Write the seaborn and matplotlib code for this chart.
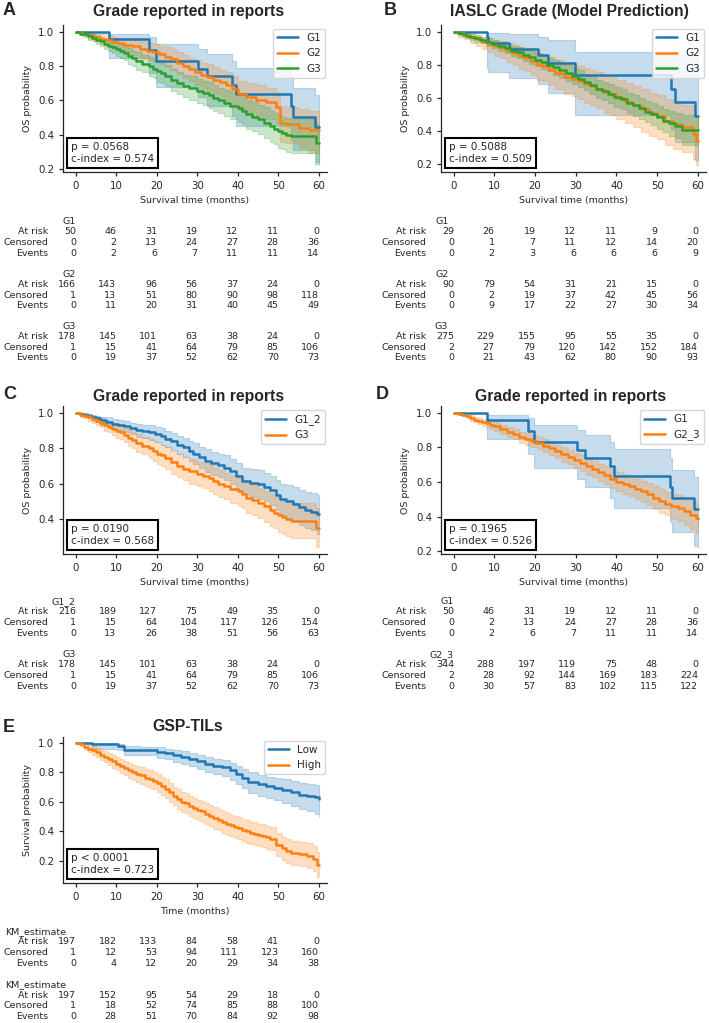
import numpy as np
import pandas as pd
import matplotlib
matplotlib.use("Agg")
import matplotlib.pyplot as plt
import matplotlib.transforms as mtransforms
import seaborn as sns

# ---- curve data (time in months, survival, CI lower, CI upper) ----
# G1 (n=50), shared by panel A and D
g1_t = [0, 8.2, 18.2, 19.8, 30.3, 32.3, 38.5, 39.5, 53.2, 53.7, 59.0, 60]
g1_s = [1.0, 0.96, 0.895, 0.83, 0.785, 0.74, 0.69, 0.635, 0.57, 0.505, 0.445, 0.445]
g1_lo = [1.0, 0.85, 0.76, 0.68, 0.62, 0.57, 0.51, 0.45, 0.37, 0.31, 0.23, 0.22]
g1_hi = [1.0, 0.99, 0.97, 0.93, 0.9, 0.87, 0.83, 0.79, 0.74, 0.67, 0.63, 0.63]

# G3 (n=178), shared by panel A and C
g3_t = [0, 1, 2, 3, 4, 5, 6, 7, 8, 9, 10, 11, 12, 13, 14, 15, 16.5, 18, 19, 20, 21, 22, 23.5, 25,
        26.5, 28, 30, 31.5, 33, 34, 35, 36.5, 38, 40, 41, 42, 43.5, 45, 46.5, 48, 49, 50, 51, 52, 53, 59.3, 60]
g3_s = [1.0, .99, .985, .975, .965, .955, .945, .93, .92, .91, .90, .89, .875, .86, .845, .83, .815, .80,
        .785, .77, .76, .745, .72, .70, .685, .67, .655, .645, .63, .615, .60, .585, .57, .555, .54, .52,
        .505, .49, .47, .45, .435, .42, .41, .40, .39, .35, .35]
g3_lo = [1.0, .98, .97, .955, .945, .93, .92, .90, .89, .875, .86, .85, .835, .815, .80, .78, .765, .745,
         .73, .71, .70, .685, .655, .635, .62, .60, .585, .575, .555, .54, .525, .51, .49, .475, .46, .435,
         .42, .405, .38, .36, .345, .325, .315, .30, .29, .24, .24]
g3_hi = [1.0, 1.0, 1.0, .995, .985, .98, .97, .96, .95, .945, .94, .93, .915, .905, .89, .88, .865, .855,
         .84, .83, .82, .805, .785, .765, .75, .74, .725, .715, .705, .69, .675, .66, .65, .635, .62, .605,
         .59, .575, .56, .54, .525, .515, .505, .50, .49, .46, .46]

# panel A, G2 (n=166)
a_g2_t = [0, 1.5, 3, 4.5, 6, 7.5, 9, 10.5, 12, 14, 16, 17.5, 19, 20.5, 22, 23.5, 25, 26.5, 28, 29.5,
          31, 32.5, 34, 35.5, 37, 38.5, 40, 42, 44.5, 47, 49.5, 50.5, 52, 55, 57.5, 60]
a_g2_s = [1.0, .99, .98, .97, .96, .95, .94, .935, .925, .915, .9, .89, .88, .87, .855, .84, .82, .8, .785,
          .765, .75, .735, .72, .705, .69, .665, .635, .62, .605, .59, .56, .47, .46, .44, .425, .425]
a_g2_lo = [1.0, .975, .96, .945, .93, .915, .9, .895, .88, .865, .85, .835, .825, .81, .795, .775, .755,
           .73, .715, .69, .675, .655, .64, .62, .605, .575, .545, .53, .51, .49, .46, .36, .35, .32, .295, .295]
a_g2_hi = [1.0, 1.0, .995, .99, .985, .98, .97, .965, .96, .955, .945, .935, .93, .92, .91, .9, .88, .865,
           .85, .835, .82, .81, .795, .78, .765, .745, .715, .7, .69, .675, .65, .57, .56, .55, .54, .54]

# panel B
b_g1_t = [0, 8.2, 8.5, 13.5, 20.7, 23.3, 29.7, 53.3, 54.4, 59.2, 60]
b_g1_s = [1.0, 0.965, 0.93, 0.897, 0.86, 0.81, 0.735, 0.655, 0.575, 0.49, 0.49]
b_g1_lo = [1.0, 0.78, 0.754, 0.717, 0.68, 0.63, 0.497, 0.41, 0.33, 0.225, 0.225]
b_g1_hi = [1.0, 1.0, 0.99, 0.985, 0.97, 0.95, 0.875, 0.86, 0.86, 0.85, 0.85]

b_g2_t = [0, 1, 2.5, 4, 5.5, 7, 8.5, 10, 11.5, 13, 14.5, 16, 17.5, 19, 20.5, 22, 23.5, 25, 27, 29,
          30.5, 32, 33.5, 35, 37, 38.5, 40, 42, 44, 46, 48, 50, 52, 54, 56, 58.8, 59.5, 60]
b_g2_s = [1.0, .99, .98, .965, .955, .94, .925, .91, .9, .88, .87, .85, .84, .82, .8, .79, .77, .75, .725,
          .715, .7, .685, .67, .655, .635, .62, .6, .575, .555, .53, .51, .49, .46, .44, .42, .38, .335, .335]
b_g2_lo = [1.0, .97, .955, .93, .915, .895, .875, .855, .84, .815, .8, .775, .76, .735, .71, .7, .675, .65,
           .62, .61, .59, .57, .555, .535, .51, .495, .47, .445, .42, .395, .37, .35, .315, .29, .27, .23, .19, .19]
b_g2_hi = [1.0, 1.0, .995, .985, .98, .97, .96, .95, .945, .93, .92, .905, .9, .885, .87, .86, .845, .83,
           .81, .8, .79, .78, .765, .755, .74, .725, .71, .69, .67, .65, .63, .615, .59, .57, .555, .52, .48, .48]

b_g3_t = [0, 1, 2, 3, 4, 5, 6.5, 8, 9.5, 11, 12.5, 14, 15.5, 17, 18.5, 20, 21.5, 23, 24.5, 26, 27.5, 29,
          30.5, 32, 33.5, 35, 36.5, 38, 39.5, 41, 42.5, 44, 45.5, 47, 48.5, 50, 51.5, 53, 54.5, 56, 60]
b_g3_s = [1.0, .99, .985, .975, .97, .96, .95, .935, .925, .91, .9, .885, .875, .86, .845, .83, .815, .8,
          .785, .765, .75, .73, .715, .695, .675, .655, .64, .625, .605, .59, .57, .555, .535, .515, .5, .48,
          .46, .445, .43, .405, .405]
b_g3_lo = [1.0, .98, .97, .96, .95, .94, .93, .91, .9, .88, .87, .85, .84, .825, .805, .79, .775, .76, .74,
           .72, .7, .68, .665, .645, .62, .6, .585, .57, .545, .53, .51, .49, .47, .45, .435, .41, .39, .37,
           .355, .315, .315]
b_g3_hi = [1.0, 1.0, .995, .99, .985, .98, .97, .96, .95, .94, .93, .915, .905, .895, .88, .87, .855, .84,
           .83, .81, .795, .78, .765, .745, .73, .71, .695, .68, .665, .65, .63, .615, .6, .58, .565, .55,
           .53, .52, .505, .495, .495]

# panel C, G1_2 (n=216)
c_g12_t = [0, 1, 2, 3, 4, 5, 6, 7.5, 9, 10.5, 12, 13.5, 15, 16.5, 18, 19.5, 21, 22, 23.5, 25, 26.5, 28,
           29, 30.5, 32, 33.5, 35, 36.5, 38, 39.5, 41, 43, 45, 46.5, 48, 49.5, 50.5, 52, 53.5, 55, 56.5,
           58, 59.5, 60]
c_g12_s = [1.0, .995, .99, .985, .975, .97, .96, .95, .94, .93, .925, .915, .905, .9, .89, .88, .87, .855,
           .84, .82, .805, .785, .77, .75, .73, .715, .705, .69, .67, .64, .615, .605, .595, .58, .565, .535,
           .51, .5, .485, .465, .45, .44, .425, .425]
c_g12_lo = [1.0, .985, .975, .97, .955, .95, .935, .925, .91, .9, .89, .88, .865, .86, .845, .835, .82,
            .805, .79, .765, .75, .73, .71, .69, .665, .65, .635, .62, .6, .565, .54, .525, .515, .5, .48,
            .45, .42, .405, .39, .365, .35, .335, .315, .315]
c_g12_hi = [1.0, 1.0, 1.0, .995, .99, .985, .98, .975, .965, .96, .955, .945, .94, .935, .93, .92, .915,
            .9, .885, .87, .86, .84, .83, .81, .795, .78, .77, .76, .74, .715, .69, .68, .675, .66, .645,
            .62, .6, .59, .58, .565, .55, .545, .535, .535]

# panel D, G2_3 (n=344)
d_g23_t = [0, 1, 2, 3, 4, 5, 6, 7, 8, 9, 10, 11.5, 13, 14.5, 16, 17.5, 19, 20.5, 22, 23.5, 25, 26.5, 28,
           29.5, 31, 32.5, 34, 35.5, 37, 38.5, 40, 41.5, 43, 44.5, 46, 47.5, 49, 50.5, 52, 53.5, 55, 56.5,
           58, 59.5, 60]
d_g23_s = [1.0, .995, .99, .98, .97, .96, .955, .945, .94, .93, .922, .905, .89, .878, .86, .85, .838,
           .825, .81, .795, .777, .76, .745, .725, .71, .69, .675, .655, .64, .62, .6, .59, .575, .56, .545,
           .53, .51, .49, .475, .46, .447, .43, .41, .39, .383]
d_g23_lo = [1.0, .99, .98, .97, .955, .945, .935, .925, .92, .905, .897, .878, .862, .848, .828, .817,
            .804, .79, .773, .757, .737, .718, .702, .68, .664, .642, .626, .604, .587, .565, .545, .533,
            .517, .5, .484, .467, .445, .423, .406, .388, .372, .352, .33, .305, .3]
d_g23_hi = [1.0, 1.0, .998, .99, .985, .975, .972, .965, .96, .955, .947, .932, .918, .908, .892, .883,
            .872, .86, .847, .833, .817, .802, .788, .77, .756, .738, .724, .706, .693, .675, .655, .647,
            .633, .62, .606, .593, .575, .557, .544, .532, .522, .508, .49, .472, .466]

# panel E
e_low_t = [0, 4, 10.5, 12, 16, 20, 22, 24, 26, 28, 30, 32, 34, 36, 38, 39.5, 41, 42.5, 45, 47, 49, 51,
           53, 55, 57, 59, 60]
e_low_s = [1.0, .99, .98, .955, .95, .94, .93, .915, .905, .89, .875, .86, .845, .835, .815, .79, .765,
           .735, .72, .705, .695, .68, .67, .65, .64, .63, .617]
e_low_lo = [1.0, .96, .95, .92, .915, .9, .89, .87, .86, .84, .825, .805, .79, .775, .75, .72, .695, .66,
            .64, .625, .61, .59, .575, .555, .54, .52, .5]
e_low_hi = [1.0, 1.0, .995, .98, .975, .97, .96, .95, .945, .93, .915, .905, .89, .885, .865, .845, .825,
            .8, .785, .77, .765, .755, .745, .73, .72, .715, .71]

e_high_t = [0, 1, 2, 3, 4, 5, 6, 7, 8, 9, 10, 11, 12, 13, 14, 15, 16, 17, 18, 19, 20, 21, 22, 23, 24,
            25, 26, 27, 28, 29, 30, 31, 32, 33, 34, 35, 36, 37, 38, 39, 40, 41, 42, 43, 44, 45, 46, 47,
            48, 49.5, 51, 52, 53, 55, 57, 58.5, 59.5, 60]
e_high_s = [1.0, .99, .975, .96, .95, .935, .92, .905, .89, .875, .86, .845, .83, .815, .8, .79, .78,
            .765, .755, .745, .73, .71, .69, .665, .64, .62, .6, .59, .575, .56, .545, .535, .52, .505,
            .49, .48, .465, .45, .44, .43, .42, .41, .4, .39, .385, .375, .37, .36, .35, .31, .285, .27,
            .255, .245, .235, .215, .17, .17]
e_high_lo = [1.0, .98, .955, .935, .92, .903, .885, .868, .85, .833, .815, .798, .781, .764, .747, .735,
             .724, .708, .697, .686, .67, .649, .628, .602, .576, .555, .534, .523, .507, .491, .475,
             .465, .449, .434, .418, .408, .392, .377, .366, .356, .345, .335, .324, .314, .308, .298,
             .292, .282, .271, .23, .205, .189, .173, .162, .151, .13, .09, .09]
e_high_hi = [1.0, 1.0, .995, .985, .98, .967, .955, .942, .93, .917, .905, .892, .879, .866, .853, .845,
             .836, .822, .813, .804, .79, .771, .752, .728, .704, .685, .666, .657, .643, .629, .615,
             .605, .591, .576, .562, .552, .538, .523, .514, .504, .495, .485, .476, .466, .462, .452,
             .448, .438, .429, .39, .365, .351, .337, .328, .319, .3, .26, .26]

# ---- number-at-risk tables (columns at 0,10,...,60 months) ----
table_ticks = [0, 10, 20, 30, 40, 50, 60]
a_risk = [[50, 46, 31, 19, 12, 11, 0], [166, 143, 96, 56, 37, 24, 0], [178, 145, 101, 63, 38, 24, 0]]
a_cens = [[0, 2, 13, 24, 27, 28, 36], [1, 13, 51, 80, 90, 98, 118], [1, 15, 41, 64, 79, 85, 106]]
a_events = [[0, 2, 6, 7, 11, 11, 14], [0, 11, 20, 31, 40, 45, 49], [0, 19, 37, 52, 62, 70, 73]]
b_risk = [[29, 26, 19, 12, 11, 9, 0], [90, 79, 54, 31, 21, 15, 0], [275, 229, 155, 95, 55, 35, 0]]
b_cens = [[0, 1, 7, 11, 12, 14, 20], [0, 2, 19, 37, 42, 45, 56], [2, 27, 79, 120, 142, 152, 184]]
b_events = [[0, 2, 3, 6, 6, 6, 9], [0, 9, 17, 22, 27, 30, 34], [0, 21, 43, 62, 80, 90, 93]]
c_risk = [[216, 189, 127, 75, 49, 35, 0], [178, 145, 101, 63, 38, 24, 0]]
c_cens = [[1, 15, 64, 104, 117, 126, 154], [1, 15, 41, 64, 79, 85, 106]]
c_events = [[0, 13, 26, 38, 51, 56, 63], [0, 19, 37, 52, 62, 70, 73]]
d_risk = [[50, 46, 31, 19, 12, 11, 0], [344, 288, 197, 119, 75, 48, 0]]
d_cens = [[0, 2, 13, 24, 27, 28, 36], [2, 28, 92, 144, 169, 183, 224]]
d_events = [[0, 2, 6, 7, 11, 11, 14], [0, 30, 57, 83, 102, 115, 122]]
e_risk = [[197, 182, 133, 84, 58, 41, 0], [197, 152, 95, 54, 29, 18, 0]]
e_cens = [[1, 12, 53, 94, 111, 123, 160], [1, 18, 52, 74, 85, 88, 100]]
e_events = [[0, 4, 12, 20, 29, 34, 38], [0, 28, 51, 70, 84, 92, 98]]

# ---- style ----
sns.set_style("ticks")
plt.rcParams['font.family'] = ['DejaVu Sans']
plt.rcParams['xtick.major.size'] = 2.9
plt.rcParams['ytick.major.size'] = 2.9
plt.rcParams['axes.linewidth'] = 0.9
pal = sns.color_palette("tab10")
BLUE, ORANGE, GREEN = pal[0], pal[1], pal[2]

W, H = 709, 1023
fig = plt.figure(figsize=(W / 100, H / 100), dpi=100)


def add_ax(x0, y0, x1, y1):
    return fig.add_axes([x0 / W, 1 - y1 / H, (x1 - x0) / W, (y1 - y0) / H])


def km(ax, t, s, lo, hi, color, label):
    ax.fill_between(t, lo, hi, step='post', color=color, alpha=0.25, lw=0.8, edgecolor=color)
    df = pd.DataFrame({'t': t, 's': s})
    sns.lineplot(data=df, x='t', y='s', ax=ax, color=color, lw=1.8, drawstyle='steps-post',
                 label=label, estimator=None, sort=False)


panels = [
    dict(letter='A', title='Grade reported in reports', rect=(63, 25, 327, 172), ylim=(0.182, 1.04),
         yticks=[0.2, 0.4, 0.6, 0.8, 1.0], xlabel='Survival time (months)', ylabel='OS probability',
         curves=[(g1_t, g1_s, g1_lo, g1_hi, BLUE, 'G1'), (a_g2_t, a_g2_s, a_g2_lo, a_g2_hi, ORANGE, 'G2'),
                 (g3_t, g3_s, g3_lo, g3_hi, GREEN, 'G3')],
         stats='p = 0.0568\nc-index = 0.574', tab=(a_risk, a_cens, a_events), names=['G1', 'G2', 'G3'],
         name_x=0.0, tab_y=[221.7, 274.3, 326.3], title_xy=(189, 16), letter_xy=(3, 15)),
    dict(letter='B', title='IASLC Grade (Model Prediction)', rect=(441, 25, 706, 172), ylim=(0.15, 1.04),
         yticks=[0.2, 0.4, 0.6, 0.8, 1.0], xlabel='Survival time (months)', ylabel='OS probability',
         curves=[(b_g1_t, b_g1_s, b_g1_lo, b_g1_hi, BLUE, 'G1'), (b_g2_t, b_g2_s, b_g2_lo, b_g2_hi, ORANGE, 'G2'),
                 (b_g3_t, b_g3_s, b_g3_lo, b_g3_hi, GREEN, 'G3')],
         stats='p = 0.5088\nc-index = 0.509', tab=(b_risk, b_cens, b_events), names=['G1', 'G2', 'G3'],
         name_x=-1.3, tab_y=[221.7, 274.3, 326.3], title_xy=(569, 16), letter_xy=(384, 15)),
    dict(letter='C', title='Grade reported in reports', rect=(63, 406, 327, 554), ylim=(0.2, 1.04),
         yticks=[0.4, 0.6, 0.8, 1.0], xlabel='Survival time (months)', ylabel='OS probability',
         curves=[(c_g12_t, c_g12_s, c_g12_lo, c_g12_hi, BLUE, 'G1_2'), (g3_t, g3_s, g3_lo, g3_hi, ORANGE, 'G3')],
         stats='p = 0.0190\nc-index = 0.568', tab=(c_risk, c_cens, c_events), names=['G1_2', 'G3'],
         name_x=0.0, tab_y=[601.7, 654.7], title_xy=(189, 400.7), letter_xy=(3, 399)),
    dict(letter='D', title='Grade reported in reports', rect=(441, 406, 706, 554), ylim=(0.183, 1.04),
         yticks=[0.2, 0.4, 0.6, 0.8, 1.0], xlabel='Survival time (months)', ylabel='OS probability',
         curves=[(g1_t, g1_s, g1_lo, g1_hi, BLUE, 'G1'), (d_g23_t, d_g23_s, d_g23_lo, d_g23_hi, ORANGE, 'G2_3')],
         stats='p = 0.1965\nc-index = 0.526', tab=(d_risk, d_cens, d_events), names=['G1', 'G2_3'],
         name_x=0.0, tab_y=[601.7, 654.7], title_xy=(571, 400.7), letter_xy=(376, 399)),
    dict(letter='E', title='GSP-TILs', rect=(63, 737, 327, 883), ylim=(0.05, 1.04),
         yticks=[0.2, 0.4, 0.6, 0.8, 1.0], xlabel='Time (months)', ylabel='Survival probability',
         curves=[(e_low_t, e_low_s, e_low_lo, e_low_hi, BLUE, 'Low'),
                 (e_high_t, e_high_s, e_high_lo, e_high_hi, ORANGE, 'High')],
         stats='p < 0.0001\nc-index = 0.723', tab=(e_risk, e_cens, e_events),
         names=['KM_estimate', 'KM_estimate'], name_x=-2.4, tab_y=[931.7, 985.0],
         title_xy=(188, 731), letter_xy=(3, 731.7)),
]

row_names = ['At risk', 'Censored', 'Events']
row_off = [10.0, 21.0, 31.5]

for p in panels:
    ax = add_ax(*p['rect'])
    for t, s, lo, hi, col, lab in p['curves']:
        km(ax, t, s, lo, hi, col, lab)
    ax.set_xlim(-3.1, 62)
    ax.set_ylim(*p['ylim'])
    ax.set_xticks(table_ticks)
    ax.set_yticks(p['yticks'])
    ax.tick_params(labelsize=7.4, width=0.9, pad=3.5)
    ax.set_xlabel(p['xlabel'], fontsize=6.8)
    ax.set_ylabel(p['ylabel'], fontsize=6.8)
    sns.despine(ax=ax)
    ax.legend(loc='upper right', bbox_to_anchor=(0.993, 0.973), borderaxespad=0, fontsize=7.5)
    ax.annotate(p['stats'], xy=(0, 0), xycoords='axes fraction', xytext=(8, 8),
                textcoords='offset pixels', ha='left', va='bottom', fontsize=7.5,
                bbox=dict(boxstyle='square,pad=0.4', fc='white', ec='black', lw=1.5))

    # title and panel letter
    fig.text(p['title_xy'][0] / W, 1 - p['title_xy'][1] / H, p['title'], ha='center', va='baseline',
             fontsize=11.3, fontweight='bold', family='Liberation Sans')
    fig.text(p['letter_xy'][0] / W, 1 - p['letter_xy'][1] / H, p['letter'], ha='left', va='baseline',
             fontsize=13, fontweight='bold', family='Liberation Sans')

    # at-risk table
    trans = mtransforms.blended_transform_factory(ax.transData, fig.transFigure)
    risk, cens, events = p['tab']
    for gi, name in enumerate(p['names']):
        y0 = p['tab_y'][gi]
        ax.text(p['name_x'], 1 - y0 / H, name, transform=trans, ha='right', va='center',
                fontsize=6.8, clip_on=False)
        for ri, rows in enumerate([risk, cens, events]):
            yy = 1 - (y0 + row_off[ri]) / H
            ax.text(-6.8, yy, row_names[ri], transform=trans, ha='right', va='center',
                    fontsize=6.8, clip_on=False)
            for tk, val in zip(table_ticks, rows[gi]):
                ax.text(tk + 0.1, yy, str(val), transform=trans, ha='right', va='center',
                        fontsize=6.8, clip_on=False)

fig.savefig('out.png', dpi=100)
